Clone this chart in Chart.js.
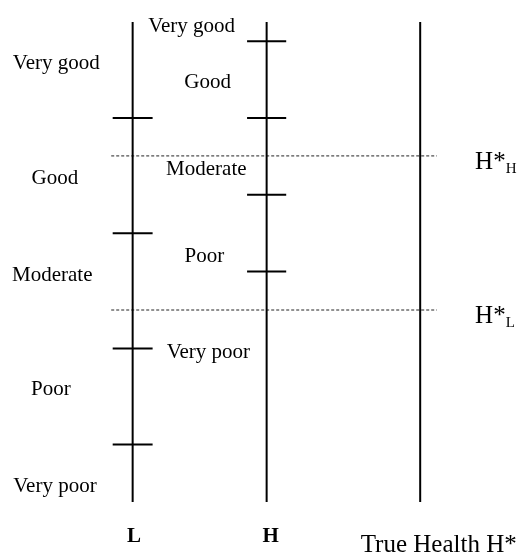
<!DOCTYPE html>
<html>
<head>
<meta charset="utf-8">
<script src="https://cdn.jsdelivr.net/npm/chart.js@4"></script>
<style>
html, body { margin: 0; padding: 0; background: #fff; }
#wrap { width: 518px; height: 554px; position: relative; }
</style>
</head>
<body>
<div id="wrap"><canvas id="chart"></canvas></div>
<script>
// Escala de salud: 0 (peor) .. 100 (mejor)
const scaleNames = ['L', 'H', 'True Health H*'];
const scaleX = [1, 2, 3.146];
const categories = ['Very good', 'Good', 'Moderate', 'Poor', 'Very poor'];

// Puntos de corte de cada escala
const cutsL = [80, 56, 32, 12];
const cutsH = [96, 80, 64, 48];

// Umbrales de salud verdadera
const thresholdNames = ['H', 'L'];
const thresholds = [72.1, 40];

// Posición de las etiquetas (en unidades de los ejes)
const labelXL = [0.43, 0.42, 0.4, 0.39, 0.42];
const labelYL = [90.2, 66.3, 46, 22.3, 2.1];
const labelXH = [1.44, 1.56, 1.55, 1.535, 1.565];
const labelYH = [97.9, 86.3, 68.1, 50, 30];
const nameY = [-8.3, -8.3, -10.5];
const nameX = [1.01, 2.03, 3.284];

const black = '#000';
const datasets = [];

// Ejes verticales
scaleX.forEach(x => {
    datasets.push({
        data: [{ x: x, y: 0 }, { x: x, y: 100 }],
        borderColor: black, borderWidth: 2, showLine: true, pointRadius: 0, clip: false
    });
});

// Marcas de corte
function addCuts(x, cuts, half) {
    cuts.forEach(c => {
        datasets.push({
            data: [{ x: x - half, y: c }, { x: x + half, y: c }],
            borderColor: black, borderWidth: 2, showLine: true, pointRadius: 0, clip: false
        });
    });
}
addCuts(scaleX[0], cutsL, 0.149);
addCuts(scaleX[1], cutsH, 0.146);

// Líneas punteadas de umbral
thresholds.forEach(t => {
    datasets.push({
        data: [{ x: 0.84, y: t }, { x: 3.27, y: t }],
        borderColor: '#222', borderWidth: 1, borderDash: [3, 2], showLine: true, pointRadius: 0, clip: false
    });
});

const textPlugin = {
    id: 'texts',
    afterDraw(chart) {
        const ctx = chart.ctx;
        const xs = chart.scales.x, ys = chart.scales.y;
        const px = v => xs.getPixelForValue(v);
        const py = v => ys.getPixelForValue(v);
        ctx.save();
        ctx.fillStyle = black;
        ctx.textBaseline = 'alphabetic';
        ctx.textAlign = 'center';
        ctx.font = '21px "Liberation Serif"';
        categories.forEach((c, i) => {
            ctx.fillText(c, px(labelXL[i]), py(labelYL[i]));
            ctx.fillText(c, px(labelXH[i]), py(labelYH[i]));
        });
        // nombres de las escalas
        ctx.font = 'bold 21px "Liberation Serif"';
        ctx.fillText(scaleNames[0], px(nameX[0]), py(nameY[0]));
        ctx.fillText(scaleNames[1], px(nameX[1]), py(nameY[1]));
        ctx.font = '25px "Liberation Serif"';
        ctx.fillText(scaleNames[2], px(nameX[2]), py(nameY[2]));
        // H*_H, H*_L
        ctx.textAlign = 'left';
        thresholds.forEach((t, i) => {
            const x0 = px(3.556);
            const y0 = py(t) + 13;
            ctx.font = '25px "Liberation Serif"';
            ctx.fillText('H*', x0, y0);
            const w = ctx.measureText('H*').width;
            ctx.font = '15px "Liberation Serif"';
            ctx.fillText(thresholdNames[i], x0 + w, y0 + 4);
        });
        ctx.restore();
    }
};

new Chart(document.getElementById('chart'), {
    type: 'scatter',
    data: { datasets: datasets },
    options: {
        responsive: true,
        maintainAspectRatio: false,
        animation: false,
        layout: { padding: { top: 22, bottom: 52, left: 0, right: 0 } },
        scales: {
            x: { type: 'linear', display: false, min: 0.01, max: 3.876 },
            y: { type: 'linear', display: false, min: 0, max: 100 }
        },
        plugins: { legend: { display: false }, tooltip: { enabled: false } }
    },
    plugins: [textPlugin]
});
</script>
</body>
</html>
